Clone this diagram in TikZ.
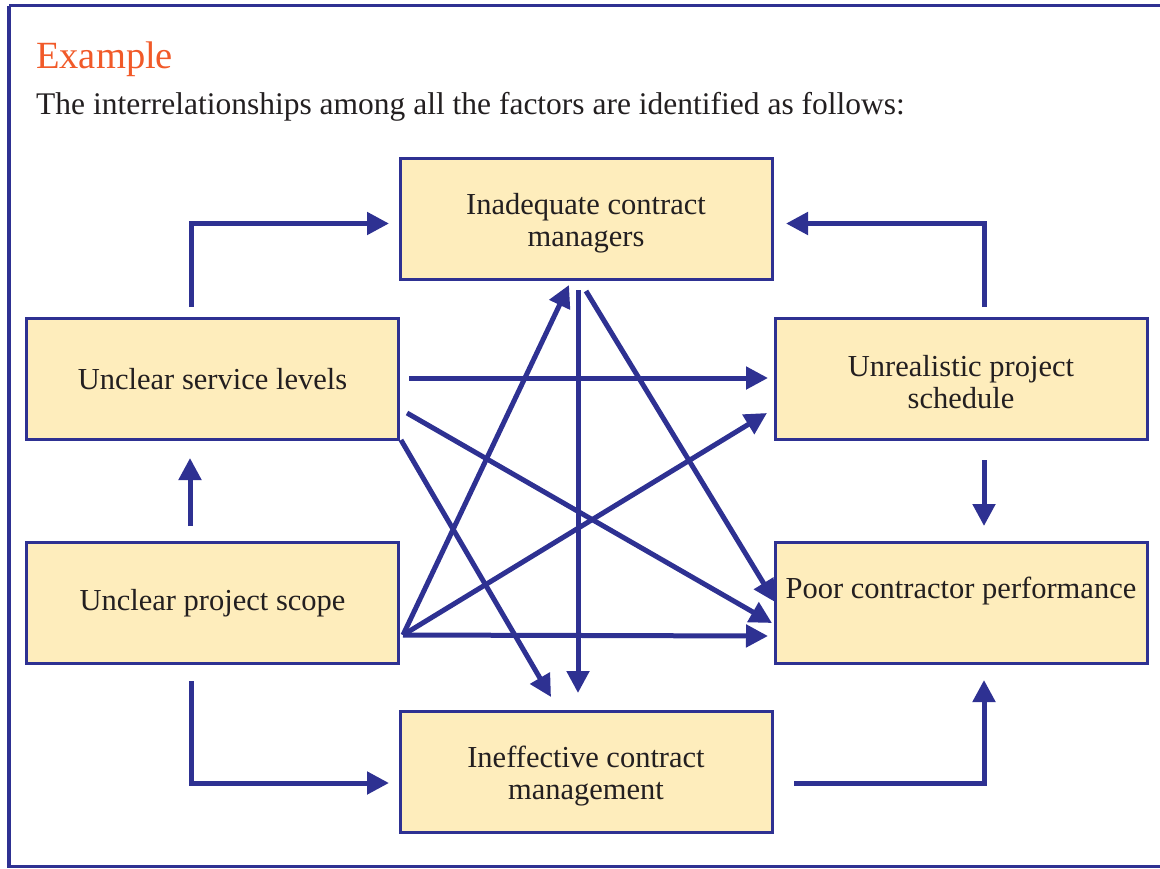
\documentclass[tikz,border=0pt]{standalone}
\usepackage{fontspec}
\setmainfont{Liberation Serif}
\usetikzlibrary{arrows.meta}
\definecolor{navy}{HTML}{2E3192}
\definecolor{boxfill}{HTML}{FEEDBC}
\definecolor{ink}{HTML}{231F20}
\definecolor{orangetitle}{HTML}{F15A29}
\tikzset{
  factor/.style={draw=navy, line width=3pt, fill=boxfill,
    minimum width=372pt, minimum height=121pt, inner sep=0pt},
  factortext/.style={text=ink, inner sep=0pt, align=center,
    font=\fontsize{30.5}{32}\selectfont},
  arr/.style={draw=navy, line width=5pt, line join=miter, line cap=butt,
    -{Triangle[length=22pt,width=22pt]}},
  frame/.style={draw=navy, line width=3.2pt}
}
\begin{document}
\begin{tikzpicture}[x=1pt,y=-1pt]
\useasboundingbox (0,0) rectangle (1160,868);
\draw[frame] (9,5.5) -- (1175,5.5) (9,5.5) -- (9,866.5) -- (1175,866.5);

\node[anchor=base west, inner sep=0pt, text=orangetitle,
      font=\fontsize{38.5}{40}\selectfont] (title) at (36,68) {Example};
\node[anchor=base west, inner sep=0pt, text=ink,
      font=\fontsize{31.5}{34}\selectfont] (intro) at (36,114)
      {The interrelationships among all the factors are identified as follows:};

\node[factor] (ina)  at (586,219)     {};
\node[factor] (svc)  at (212.5,378.5) {};
\node[factor] (sch)  at (961,378.5)   {};
\node[factor] (scp)  at (212.5,602.5) {};
\node[factor] (poor) at (961,602.5)   {};
\node[factor] (ine)  at (586,771.5)   {};

\node[factortext] (inaT)  at ([yshift=-4.5pt]ina.center)  {Inadequate contract\\managers};
\node[factortext] (svcT)  at ([yshift=-0.5pt]svc.center)  {Unclear service levels};
\node[factortext] (schT)  at ([yshift=-4pt]sch.center)    {Unrealistic project\\schedule};
\node[factortext] (scpT)  at ([yshift=-0.5pt]scp.center)  {Unclear project scope};
\node[factortext] (poorT) at ([yshift=-6pt]poor.center)   {Poor contractor performance\\\strut};
\node[factortext] (ineT)  at ([yshift=-5pt]ine.center)    {Ineffective contract\\management};

% connector ends (free ends near boxes)
\coordinate (svcN) at (191,307);   \coordinate (inaW) at (389,223.5);
\coordinate (schN) at (984,307);   \coordinate (inaE) at (786,223.5);
\coordinate (svcE) at (409,378);   \coordinate (schW) at (768,378);
\coordinate (scpN) at (190,526);   \coordinate (svcS) at (190,458);
\coordinate (schS) at (984,460);   \coordinate (poorN) at (984,526);
\coordinate (scpS) at (191,681);   \coordinate (ineW) at (389,783);
\coordinate (ineE) at (794,783);   \coordinate (poorS) at (984,680);
\coordinate (scpO) at (403,635);
\coordinate (inaS1) at (569,285);  \coordinate (schW2) at (767,413);
\coordinate (poorW3) at (768,636);
\coordinate (inaS2) at (578,290);  \coordinate (ineN2) at (578,693);
\coordinate (inaS3) at (586,291);  \coordinate (poorW1) at (775,602);
\coordinate (svcE2) at (407,413);  \coordinate (poorW2) at (772,623);
\coordinate (svcSE) at (401,440);  \coordinate (ineN1) at (551,697);

\draw[arr] (svcN) |- (inaW);
\draw[arr] (schN) |- (inaE);
\draw[arr] (svcE) -- (schW);
\draw[arr] (scpN) -- (svcS);
\draw[arr] (schS) -- (poorN);
\draw[arr] (scpS) |- (ineW);
\draw[arr] (ineE) -| (poorS);
\draw[arr] (scpO) -- (inaS1);
\draw[arr] (scpO) -- (schW2);
\draw[arr] (scpO) -- (poorW3);
\draw[arr] (inaS2) -- (ineN2);
\draw[arr] (inaS3) -- (poorW1);
\draw[arr] (svcE2) -- (poorW2);
\draw[arr] (svcSE) -- (ineN1);
\end{tikzpicture}
\end{document}
